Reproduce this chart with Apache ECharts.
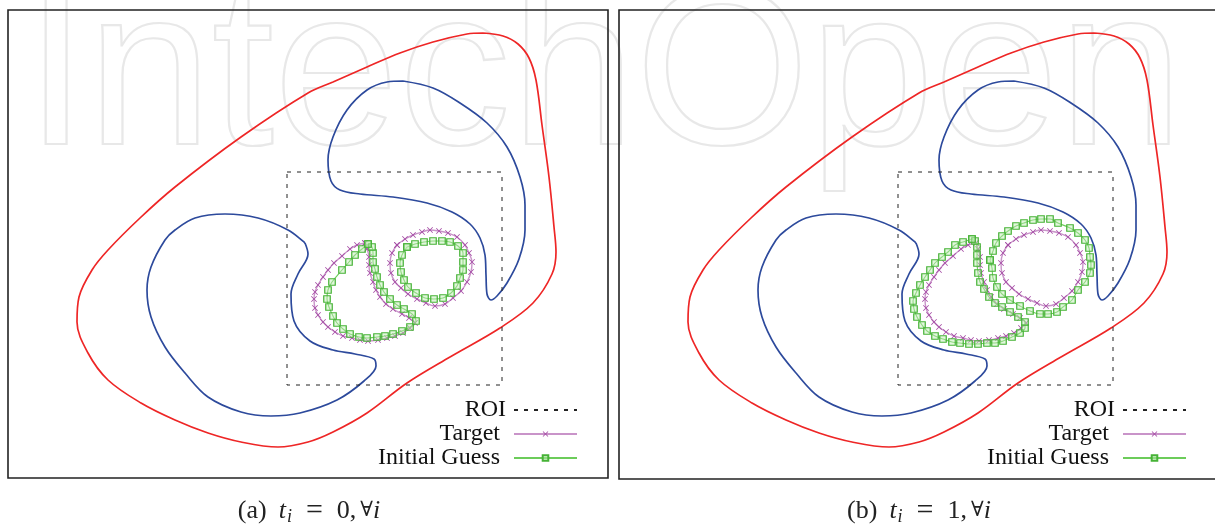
<!DOCTYPE html>
<html>
<head>
<meta charset="utf-8">
<script src="https://cdn.jsdelivr.net/npm/echarts@6/dist/echarts.min.js"></script>
<style>html,body{margin:0;padding:0;background:#fff}#c{width:1215px;height:524px}</style>
</head>
<body>
<div id="c"></div>
<script>
// ---- data (panel-local pixel-like units, x: 8..608, y: 10..478 downward) ----
var outerBoundary = [[483,33],[503,36],[518,44],[529,58],[536,80],[542,125],[549,177],[554,227],[556,252],[552,274],[533,303],[500,328],[450,357],[407,383],[367,413],[333,432],[308,442],[278,447],[241,442],[208,433],[175,420],[141,403],[108,380],[88,353],[77,322],[79,297],[92,270],[108,250],[140,218],[175,187],[241,137],[308,93],[333,82],[367,67],[400,53],[433,42],[467,34],[483,33]];
var innerBoundaryTop = [[403,81],[433,88],[460,103],[487,123],[507,147],[520,177],[525,205],[525,230],[519,259],[507,283],[497,296],[491,300],[487,294],[486,275],[485,255],[480,238],[470,224],[452,212],[427,203],[393,197],[360,194],[340,190],[331,181],[328,160],[333,137],[347,110],[367,90],[387,82],[403,81]];
var innerBoundaryLeft = [[305,243],[308,254],[298,274],[291,294],[294,321],[310,341],[333,350],[355,354],[374,359],[376,366],[364,381],[337,400],[300,413],[271,416],[241,412],[208,397],[185,373],[165,347],[151,317],[147,290],[151,267],[165,240],[175,230],[195,218],[225,214],[258,218],[288,230],[305,243]];
var roiBox = [[287,172],[502,172],[502,385],[287,385],[287,172]];
var targetLeft = [[365,243],[357,245],[350,249],[342,256],[334,263],[328,270],[323,277],[318,285],[315,292],[314,299],[315,308],[318,315],[323,322],[328,327],[335,332],[343,336],[352,338],[360,340],[368,341],[378,340],[387,338],[395,336],[403,333],[410,328],[415,323],[409,318],[402,314],[393,309],[386,304],[380,297],[376,290],[373,282],[370,273],[369,265],[369,257],[367,249],[365,243]];
var targetRight = [[397,245],[392,253],[390,263],[391,273],[395,282],[401,288],[408,294],[417,299],[426,303],[435,306],[445,304],[453,298],[461,291],[467,282],[471,272],[472,262],[469,253],[465,245],[457,237],[448,233],[439,231],[430,230],[422,232],[413,235],[405,239],[397,245]];
var guessA_Left = [[368,244],[362,249],[355,255],[349,262],[342,270],[332,282],[328,290],[327,299],[329,307],[333,316],[337,323],[343,329],[350,334],[359,337],[367,338],[377,337],[385,336],[393,334],[402,331],[410,327],[416,321],[412,314],[404,309],[397,305],[390,299],[384,292],[380,285],[377,277],[375,269],[373,262],[373,253],[372,247],[368,244]];
var guessA_Right = [[407,247],[402,255],[400,263],[401,272],[404,280],[408,287],[416,293],[425,298],[434,299],[443,298],[451,293],[457,286],[460,278],[463,270],[463,262],[463,253],[458,246],[450,242],[442,241],[433,241],[424,242],[415,244],[407,247]];
var guessB_Left = [[361,239],[352,242],[344,245],[337,252],[331,257],[324,263],[319,270],[314,277],[309,285],[305,293],[302,301],[303,309],[306,317],[311,325],[316,331],[324,336],[332,339],[341,342],[349,343],[358,344],[367,344],[376,343],[384,343],[392,341],[401,337],[409,333],[414,328],[414,322],[407,317],[399,312],[391,307],[384,303],[378,297],[373,289],[369,282],[367,273],[366,263],[366,255],[366,247],[364,241],[361,239]];
var guessB_Right = [[379,260],[381,268],[382,278],[386,287],[391,294],[399,300],[409,306],[419,311],[429,314],[437,314],[446,312],[452,307],[461,300],[467,290],[474,282],[479,273],[480,265],[479,257],[478,248],[474,240],[467,233],[459,228],[447,223],[439,219],[430,219],[422,220],[413,223],[405,226],[397,231],[391,236],[385,243],[382,251],[379,260]];
var legendNames = ['ROI','Target','Initial Guess'];
var captionA = ['(a)','t','i','=','0,','\u2200','i'];
var captionB = ['(b)','t','i','=','1,','\u2200','i'];

// ---- styles ----
var RED = '#ee2626', BLUE = '#2d4a9c', MAG = '#a44aa4', MAGL = '#c994c9', GRN = '#46b236', GRNL = '#6ccc5a';
var X_PATH = 'path://M1,0L5,4L9,0L10,1L6,5L10,9L9,10L5,6L1,10L0,9L4,5L0,1Z';

function plain(name, data, gi, color) {
  return {name: name, type: 'line', data: data, xAxisIndex: gi, yAxisIndex: gi,
    smooth: 0.35, showSymbol: false, symbol: 'none', silent: true,
    lineStyle: {color: color, width: 1.7}, itemStyle: {color: 'rgba(0,0,0,0)'}, z: 3};
}
function target(data, gi) {
  return {name: 'Target', type: 'line', data: data, xAxisIndex: gi, yAxisIndex: gi,
    smooth: 0.35, showSymbol: true, showAllSymbol: true, symbol: X_PATH, symbolSize: 6, silent: true,
    lineStyle: {color: MAGL, width: 1.4}, itemStyle: {color: MAG}, z: 4};
}
function guess(data, gi) {
  return {name: 'Initial Guess', type: 'line', data: data, xAxisIndex: gi, yAxisIndex: gi,
    smooth: 0.35, showSymbol: true, showAllSymbol: true, symbol: 'rect', symbolSize: 6.5, silent: true,
    lineStyle: {color: GRNL, width: 1.1},
    itemStyle: {color: 'rgba(190,235,180,0.45)', borderColor: GRN, borderWidth: 1.2}, z: 5};
}
function panelSeries(gi, gL, gR) {
  return [
    plain('outer', outerBoundary, gi, RED),
    plain('inner1', innerBoundaryTop, gi, BLUE),
    plain('inner2', innerBoundaryLeft, gi, BLUE),
    {name: 'ROI', type: 'line', data: roiBox, xAxisIndex: gi, yAxisIndex: gi, showSymbol: false, symbol: 'none',
      silent: true, lineStyle: {color: '#222', width: 1, type: [4, 6]}, itemStyle: {color: 'rgba(0,0,0,0)'}, z: 3},
    target(targetLeft, gi), target(targetRight, gi),
    guess(gL, gi), guess(gR, gi)
  ];
}

var legendRows = [412, 436, 460];
var legends = [];
[637, 28].forEach(function (r) {
  legendNames.forEach(function (n, i) {
    legends.push({data: [n], right: r, top: legendRows[i] - 14, orient: 'horizontal', align: 'right',
      itemWidth: 63, itemHeight: 7, padding: 0, selectedMode: false,
      textStyle: {fontFamily: 'Liberation Serif', fontSize: 24, color: '#111', padding: [0, i === 0 ? 3 : 9, 0, 0]}});
  });
});

function caption(p, cx) {
  var base = {fontFamily: 'Liberation Serif', fontSize: 26, lineHeight: 30, fill: '#222'};
  function m(o) { var r = {}; for (var k in base) r[k] = base[k]; for (var k2 in o) r[k2] = o[k2]; return r; }
  return {type: 'text', silent: true, z: 10, style: {
    x: cx, y: 511, align: 'center', verticalAlign: 'middle',
    text: '{n|' + p[0] + '}{t|' + p[1] + '}{s|' + p[2] + '}{q|' + p[3] + '}{z|' + p[4] + '}{f|' + p[5] + '}{i|' + p[6] + '}',
    rich: {
      n: m({padding: [0, 12, 0, 0]}),
      t: m({fontStyle: 'italic'}),
      s: m({fontStyle: 'italic', fontSize: 18, lineHeight: 25, verticalAlign: 'bottom', padding: [0, 14, 0, 1]}),
      q: m({fontSize: 30, padding: [0, 14, 0, 0]}),
      z: m({padding: [0, 4, 0, 0]}),
      f: m({fontFamily: 'DejaVu Serif', fontSize: 21}),
      i: m({fontStyle: 'italic'})
    }}};
}

var chart = echarts.init(document.getElementById('c'), null, {renderer: 'canvas'});
chart.setOption({
  animation: false,
  backgroundColor: '#fff',
  grid: [
    {left: 8, top: 10, width: 600, height: 468, show: true, borderColor: '#222', borderWidth: 1.6, backgroundColor: 'rgba(0,0,0,0)'},
    {left: 619, top: 10, right: 0, height: 469, show: false}
  ],
  xAxis: [
    {type: 'value', gridIndex: 0, min: 8, max: 608, show: false},
    {type: 'value', gridIndex: 1, min: 8, max: 604, show: false}
  ],
  yAxis: [
    {type: 'value', gridIndex: 0, min: 10, max: 478, inverse: true, show: false},
    {type: 'value', gridIndex: 1, min: 10, max: 479, inverse: true, show: false}
  ],
  legend: legends,
  tooltip: {show: false},
  graphic: [
    {type: 'text', silent: true, z: -100, style: {text: 'IntechOpen', x: 25, y: 82, align: 'left', verticalAlign: 'middle',
      font: '224px "Liberation Sans"', fill: 'rgba(0,0,0,0)', stroke: '#e8e8e8', lineWidth: 2.2}},
    {type: 'polyline', silent: true, z: 1, shape: {points: [[1216, 10], [619, 10], [619, 479], [1216, 479]]},
      style: {stroke: '#222', lineWidth: 1.6, fill: null}},
    caption(captionA, 309),
    caption(captionB, 919)
  ],
  series: panelSeries(0, guessA_Left, guessA_Right).concat(panelSeries(1, guessB_Left, guessB_Right))
});
</script>
</body>
</html>
